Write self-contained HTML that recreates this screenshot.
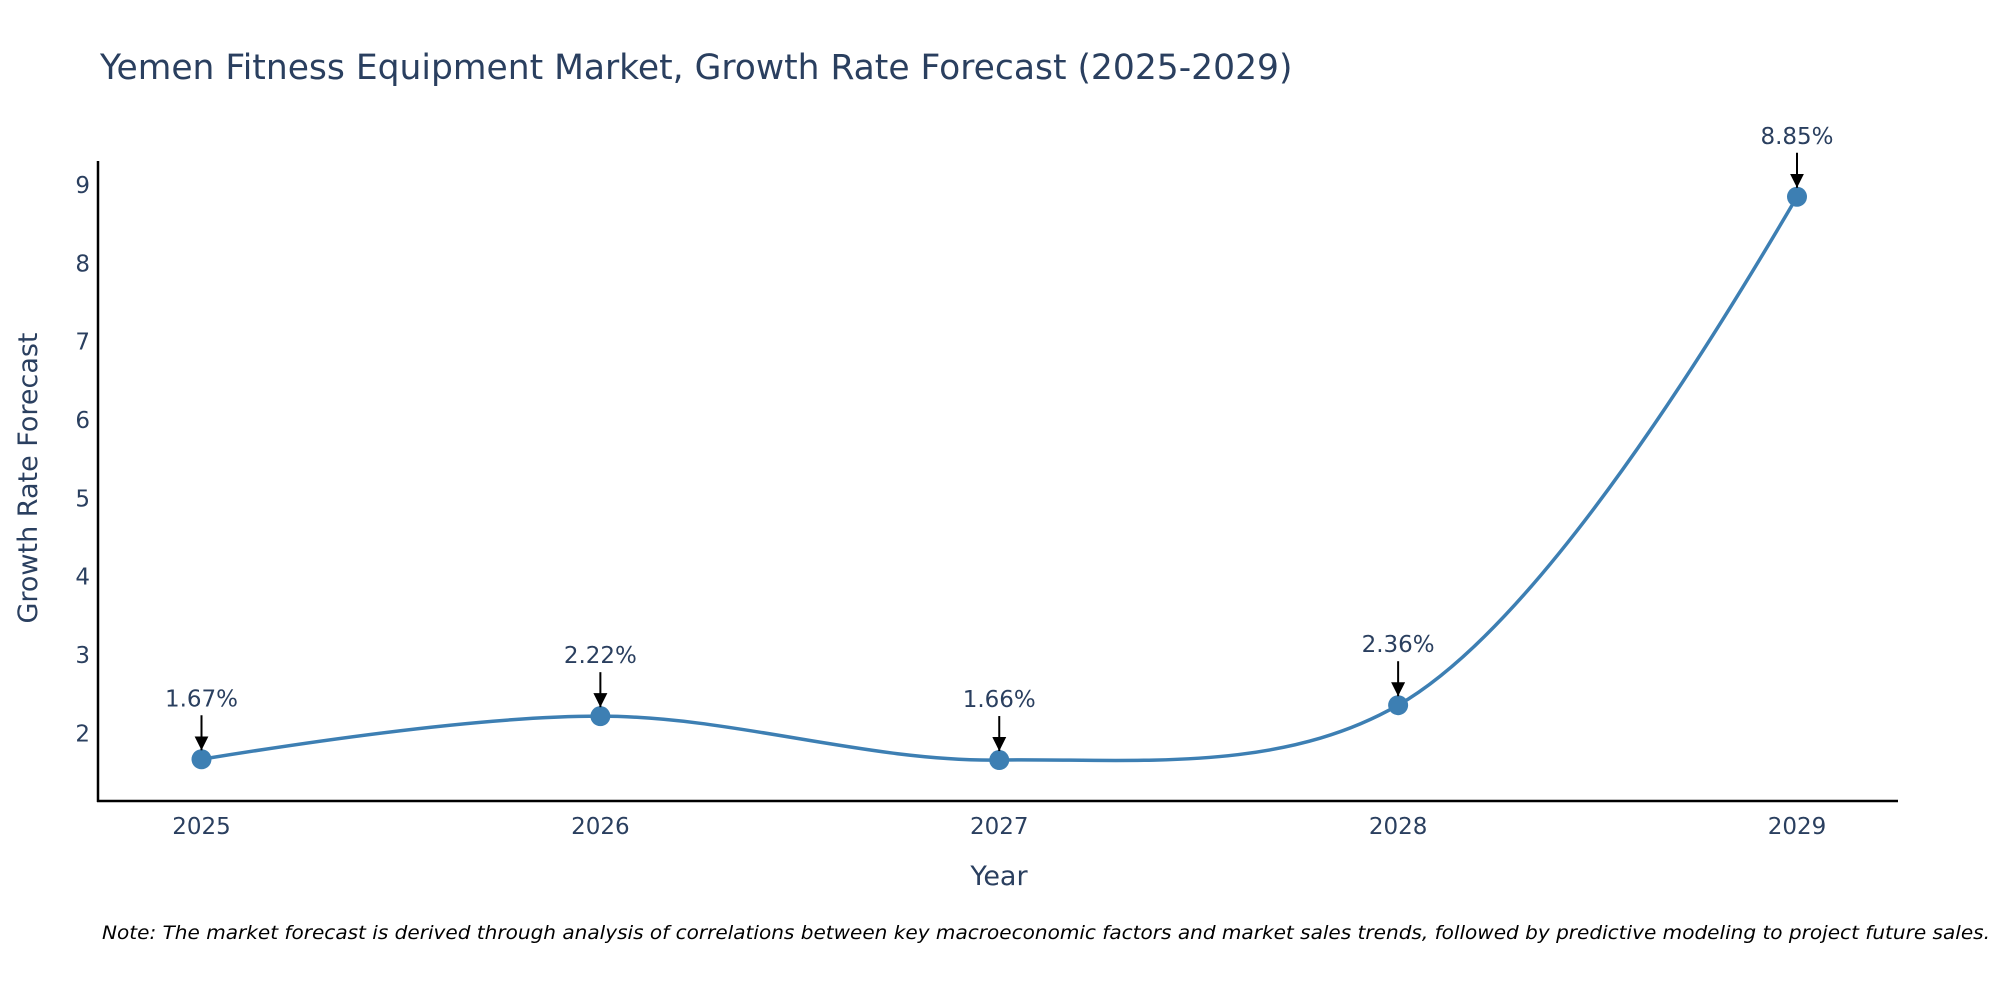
<!DOCTYPE html>
<html><head><meta charset="utf-8"><style>
html,body{margin:0;padding:0;background:#fff;}
svg{display:block;font-family:"DejaVu Sans","Liberation Sans",sans-serif;}
</style></head><body>
<svg id="chart" width="2000" height="1000" viewBox="0 0 2000 1000">
<defs><marker id="ah" viewBox="0 0 10 10" refX="10" refY="5" markerWidth="7" markerHeight="7" orient="auto"><path d="M0,0 L10,5 L0,10 z" fill="#000"/></marker></defs>
<text x="100" y="79" font-size="34.5" fill="#2a3f5f">Yemen Fitness Equipment Market, Growth Rate Forecast (2025-2029)</text>
<line x1="98" y1="161" x2="98" y2="802" stroke="#000" stroke-width="2.5"/>
<line x1="97" y1="801" x2="1898" y2="801" stroke="#000" stroke-width="2.5"/>
<g id="yticks"></g><g id="xticks"></g>
<path id="line" fill="none" stroke="#3d7fb3" stroke-width="3.5"/>
<g id="pts"></g><g id="ann"></g>
<text x="999" y="885" font-size="27" fill="#2a3f5f" text-anchor="middle">Year</text>
<text transform="translate(37,478) rotate(-90)" font-size="27" fill="#2a3f5f" text-anchor="middle">Growth Rate Forecast</text>
<text x="102" y="939" font-size="19" font-style="italic" fill="#000" textLength="1888" lengthAdjust="spacingAndGlyphs">Note: The market forecast is derived through analysis of correlations between key macroeconomic factors and market sales trends, followed by predictive modeling to project future sales.</text>
</svg>
<script>
const years=["2025","2026","2027","2028","2029"];
const values=[1.67,2.22,1.66,2.36,8.85];
const labels=["1.67%","2.22%","1.66%","2.36%","8.85%"];
const yTicks=[2,3,4,5,6,7,8,9];
const NS="http://www.w3.org/2000/svg";
function xs(i){return 201.5+i*(1797-201.5)/4;}
function ys(v){return 733.4-(v-2)*(733.4-185)/7;}
function mk(t,a,p){const e=document.createElementNS(NS,t);for(const k in a)e.setAttribute(k,a[k]);p.appendChild(e);return e;}
const yt=document.getElementById('yticks');
yTicks.forEach(v=>{const t=mk('text',{x:90,y:ys(v)+8,'font-size':23,fill:'#2a3f5f','text-anchor':'end'},yt);t.textContent=v;

});
const xt=document.getElementById('xticks');
years.forEach((y,i)=>{const t=mk('text',{x:xs(i),y:834,'font-size':23,fill:'#2a3f5f','text-anchor':'middle'},xt);t.textContent=y;

});
const P=values.map((v,i)=>[xs(i),ys(v)]);
function tan(a,b,c,s){const d1x=a[0]-b[0],d1y=a[1]-b[1],d2x=c[0]-b[0],d2y=c[1]-b[1];
const d1a=Math.pow(d1x*d1x+d1y*d1y,0.25),d2a=Math.pow(d2x*d2x+d2y*d2y,0.25);
const nx=(d2a*d2a*d1x-d1a*d1a*d2x)*s,ny=(d2a*d2a*d1y-d1a*d1a*d2y)*s;
const q1=3*d2a*(d1a+d2a),q2=3*d1a*(d1a+d2a);
return [[b[0]+nx/q1,b[1]+ny/q1],[b[0]-nx/q2,b[1]-ny/q2]];}
const T=[];for(let i=1;i<P.length-1;i++)T.push(tan(P[i-1],P[i],P[i+1],1));
let d=`M${P[0]} Q${T[0][0]} ${P[1]}`;
for(let i=2;i<P.length-1;i++)d+=` C${T[i-2][1]} ${T[i-1][0]} ${P[i]}`;
d+=` Q${T[T.length-1][1]} ${P[P.length-1]}`;
document.getElementById('line').setAttribute('d',d);
const pg=document.getElementById('pts'),ag=document.getElementById('ann');
P.forEach((p,i)=>{const c=mk('circle',{cx:p[0],cy:p[1],r:10,fill:'#3d7fb3'},pg);


const l=mk('line',{x1:p[0],y1:p[1]-44,x2:p[0],y2:p[1]-9,stroke:'#000','stroke-width':2,'marker-end':'url(#ah)'},ag);


const t=mk('text',{x:p[0],y:p[1]-53,'font-size':23,fill:'#2a3f5f','text-anchor':'middle'},ag);t.textContent=labels[i];

});
</script>
</body></html>
